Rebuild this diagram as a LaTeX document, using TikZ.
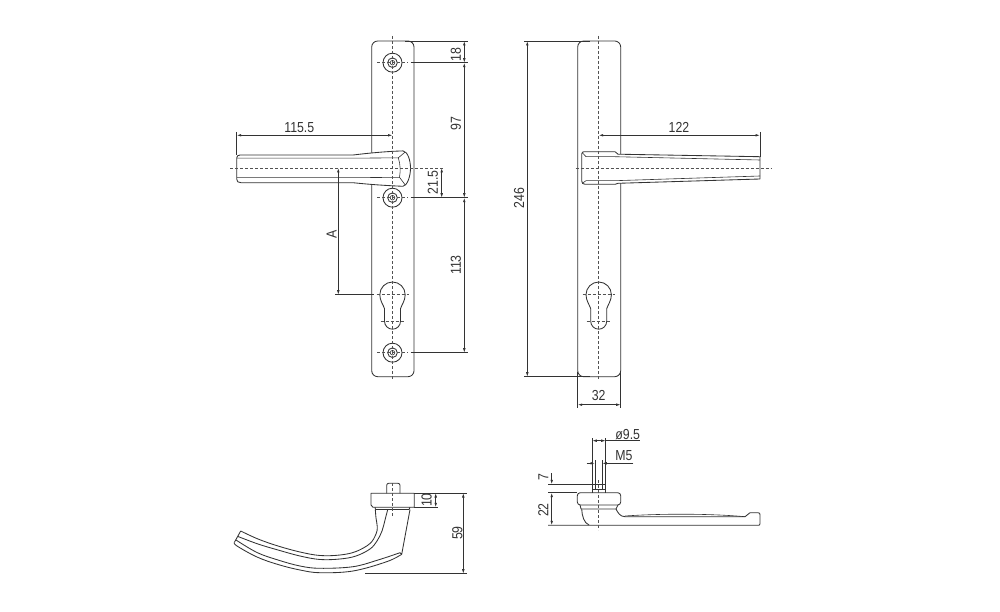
\documentclass[tikz,border=0pt]{standalone}
\usepackage{fontspec}
\setmainfont[FakeStretch=0.85]{Liberation Sans}
\usetikzlibrary{arrows.meta}
\definecolor{ink}{HTML}{333333}
\tikzset{
  part/.style={draw=ink,line width=0.85pt,line join=round},
  thin part/.style={draw=ink,line width=0.6pt},
  centre/.style={draw=ink!85,line width=0.7pt,dash pattern=on 3pt off 2pt},
  extline/.style={draw=ink,line width=0.7pt},
  dimline/.style={draw=ink,line width=0.7pt,{Latex[length=4.5pt,width=2.6pt]}-{Latex[length=4.5pt,width=2.6pt]}},
  dimtick/.style={draw=ink,line width=0.7pt,-{Latex[length=4.5pt,width=2.6pt]}},
  lbl/.style={font=\fontsize{14.5}{14.5}\selectfont,text=ink,inner sep=0pt},
  vlbl/.style={lbl,rotate=90}
}
\newcommand{\keyhole}[3]{%
 \begin{scope}[shift={(#1,294.7)}]
  \draw[part] (-8,14) .. controls (-9,10.5) and (-12.7,6) .. (-12.7,0) .. controls (-12.7,-7) and (-7,-12.7) .. (0,-12.7) .. controls (7,-12.7) and (12.7,-7) .. (12.7,0) .. controls (12.7,6) and (9,10.5) .. (8,14) -- (8,26.5) .. controls (8,31) and (4.4,34.5) .. (0,34.5) .. controls (-4.4,34.5) and (-8,31) .. (-8,26.5) -- cycle;
  \draw[centre] (-#2,0) -- (#2,0);
  \draw[centre] (-#3,26.6) -- (#3,26.6);
 \end{scope}}
\newcommand{\screw}[2]{%
 \draw[part] (#1,#2) circle (9.5);
 \draw[part] (#1,#2) circle (4.8);
 \draw[thin part] (#1,#2) circle (2.3);
 \draw[centre] (#1-15.5,#2) -- (#1+15.5,#2);}
\begin{document}
\begin{tikzpicture}[x=1pt,y=-1pt]
\useasboundingbox[fill=white] (0,0) rectangle (1000,612);
% ---------- front view, left
\draw[part,rounded corners=6pt] (371.7,41) rectangle (414,376.7);
\screw{392.5}{62.7}
\screw{392.5}{197.7}
\screw{392.5}{352.7}
\keyhole{392.5}{16}{12}
% handle
\draw[part,fill=white] (240,155) -- (353,155) .. controls (370,153) and (385,151.5) .. (403,150.9) .. controls (407.5,151.5) and (410.5,160) .. (410.5,168) .. controls (410.5,176) and (407.5,185.5) .. (403,186.3) .. controls (385,185.5) and (370,184.5) .. (353,182.7) -- (241,182.7) .. controls (238,182.7) and (236.7,181.5) .. (236.7,179) -- (236.7,158) .. controls (236.7,156) and (238,155) .. (240,155) -- cycle;
\draw[thin part] (237,158.2) -- (353,158.2) -- (398.3,157.8) -- (405,152.2);
\draw[thin part] (398.3,157.8) .. controls (400.5,165) and (400.5,171) .. (399.5,177.3) -- (405.5,185.3);
\draw[thin part] (237,177.7) -- (353,177.7) -- (399.5,177.3);
\draw[centre] (392.5,36) -- (392.5,380);
\draw[centre] (230,168) -- (444,168);
% dims
\coordinate (t115) at (236.7,135.3); \coordinate (c115) at (392.5,135.3);
\draw[extline] (236.7,132) -- (236.7,155);
\draw[dimline] (t115) -- (c115);
\node[lbl] (n115) at (299.3,128) {115.5};
\coordinate (d0) at (464.3,41); \coordinate (d1) at (464.3,62.7); \coordinate (d2) at (464.3,197.7); \coordinate (d3) at (464.3,352.7);
\draw[extline] (405,41) -- (467.5,41);
\draw[extline] (410.7,62.7) -- (467.5,62.7);
\draw[extline] (410.7,197.7) -- (467.5,197.7);
\draw[extline] (410.7,352.7) -- (467.5,352.7);
\draw[dimline] (d0) -- (d1);
\draw[dimline] (d1) -- (d2);
\draw[dimline] (d2) -- (d3);
\node[vlbl] (n18) at (456,55) {18};
\node[vlbl] (n97) at (456,123.5) {97};
\node[vlbl] (n113) at (456,265) {113};
\coordinate (e0) at (441.7,168); \coordinate (e1) at (441.7,197.7);
\draw[dimline] (e0) -- (e1);
\node[vlbl] (n21) at (433,182.5) {21.5};
\coordinate (a0) at (338.3,168); \coordinate (a1) at (338.3,294.7);
\draw[dimline] (a0) -- (a1);
\draw[extline] (335,294.7) -- (374,294.7);
\node[vlbl] (nA) at (331.7,234) {A};
% ---------- front view, right
\draw[part,rounded corners=6pt] (577.7,41) rectangle (620.7,376.7);
\keyhole{598.7}{16}{12}
\draw[part,fill=white] (584,151.7) -- (615,151.7) -- (618,154.2) -- (760,156.7) -- (760,179) -- (618,183.3) -- (615,184.3) -- (585,184.3) .. controls (583,184.3) and (581.7,183) .. (581.7,181) -- (581.7,154) .. controls (581.7,152.5) and (583,151.7) .. (584,151.7) -- cycle;
\draw[thin part] (582.3,152.7) -- (586,156.7) -- (615,156.7) -- (760,160);
\draw[thin part] (582.3,183.3) -- (586,180.7) -- (615,180.7) -- (760,176);
\draw[centre] (598.7,36) -- (598.7,380);
\draw[centre] (575.7,168) -- (771.7,168);
\coordinate (h0) at (598.7,135.3); \coordinate (h1) at (760,135.3);
\draw[extline] (760,132) -- (760,157);
\draw[dimline] (h0) -- (h1);
\node[lbl] (n122) at (679,127) {122};
\coordinate (v0) at (527.3,41); \coordinate (v1) at (527.3,376.7);
\draw[extline] (524.3,41) -- (590,41);
\draw[extline] (524.3,376.7) -- (590,376.7);
\draw[dimline] (v0) -- (v1);
\node[vlbl] (n246) at (519,198) {246};
\coordinate (w0) at (577.7,404.7); \coordinate (w1) at (620.7,404.7);
\draw[extline] (577.7,372) -- (577.7,408);
\draw[extline] (620.7,372) -- (620.7,408);
\draw[dimline] (w0) -- (w1);
\node[lbl] (n32) at (598.7,395.5) {32};
% ---------- side view, left
\draw[part,rounded corners=2pt] (386.7,493.3) -- (386.7,483.3) -- (400,483.3) -- (400,493.3);
\draw[part] (371,493.3) -- (414.3,493.3) -- (414.3,507.3) -- (373,507.3) -- (371,505) -- cycle;
\draw[part] (375,507.3) -- (375.5,509.5) -- (409,509.5) -- (410,507.3);
\draw[part] plot[smooth,tension=0.6] coordinates {(240.7,531) (258,539) (278,546) (300,552) (320,555.5) (340,555) (356,551.5) (370,543.5) (376,534) (377.3,527) (376,518) (375.3,509.5)};
\draw[part] plot[smooth,tension=0.6] coordinates {(238,536.5) (258,544) (278,550) (300,556) (320,559.5) (340,559) (356,556) (370,549) (377,541) (382,531) (385,520) (387.7,509.5)};
\draw[part] plot[smooth,tension=0.6] coordinates {(236,540) (257,552.5) (278,560) (300,566) (320,568.3) (353,566.7) (378,560) (400,552.7)};
\draw[part] plot[smooth,tension=0.6] coordinates {(234.3,542.5) (237,546) (257,557) (278,564.5) (300,570) (320,572.7) (353,571) (386.7,561.7) (401.7,554.3)};
\draw[part] (240.7,531) -- (234.3,542.5);
\draw[part] (400,552.7) -- (401.7,554.3) -- (410,509.5);
\draw[centre] (392.7,483) -- (392.7,516);
\coordinate (p0) at (463.3,493); \coordinate (p1) at (463.3,573.7);
\draw[extline] (414.3,493) -- (467,493);
\draw[extline] (365,573.7) -- (467,573.7);
\draw[dimline] (p0) -- (p1);
\node[vlbl] (n59) at (457.5,533) {59};
\coordinate (q0) at (435.7,493); \coordinate (q1) at (435.7,507.3);
\draw[extline] (414.3,507.3) -- (438,507.3);
\draw[dimline] (q0) -- (q1);
\node[vlbl] (n10) at (426.7,500) {10};
% ---------- side view, right
\draw[part,rounded corners=3pt] (577.3,492.7) -- (620.7,492.7) -- (620.7,505) -- (577.3,505) -- cycle;
\draw[part] (580,505) -- (581,509) -- (616,509) -- (618,505);
\draw[part] (581.7,509) .. controls (582,516) and (584,523) .. (589,525);
\draw[part] (616,509) .. controls (618,513) and (620,516.5) .. (625,516.7) -- (745,516.7) -- (750,512.7) -- (758,512.7) .. controls (759.5,512.7) and (760,513.5) .. (760,515) -- (760,524) -- (759,525.3) -- (548,525.3);
\draw[thin part] (625,516) .. controls (660,513.5) and (710,513.5) .. (745,516.7);
\draw[part] (592.3,492.7) -- (592.3,484.3) -- (605.7,484.3) -- (605.7,492.7);
\draw[thin part] (592.3,489) -- (605.7,489);
\draw[extline] (592.3,438) -- (592.3,492);
\draw[extline] (605.7,438) -- (605.7,492);
\draw[thin part] (595,460) -- (595,489);
\draw[thin part] (602.3,460) -- (602.3,489);
\draw[centre] (598.3,480) -- (598.3,530);
\coordinate (r0) at (592.3,440.7); \coordinate (r1) at (605.7,440.7); \coordinate (r2) at (640,440.7);
\draw[dimline] (r0) -- (r1);
\draw[extline] (r1) -- (r2);
\node[lbl] (n95) at (627.7,435) {ø9.5};
\coordinate (s0) at (586.7,463.3); \coordinate (s1) at (595,463.3); \coordinate (s2) at (633.3,463.3); \coordinate (s3) at (602.3,463.3);
\draw[dimtick] (s0) -- (s1);
\draw[dimtick] (s2) -- (s3);
\node[lbl] (nM5) at (624,456) {M5};
\coordinate (u0) at (551.7,473); \coordinate (u1) at (551.7,484.3); \coordinate (u2) at (551.7,492.7); \coordinate (u3) at (551.7,525.3);
\draw[extline] (548,484.3) -- (592.3,484.3);
\draw[extline] (548,492.7) -- (577.3,492.7);
\draw[dimtick] (u0) -- (u1);
\draw[dimline] (u2) -- (u3);
\node[vlbl] (n7) at (543.3,477) {7};
\node[vlbl] (n22) at (543.3,510) {22};
\end{tikzpicture}
\end{document}
